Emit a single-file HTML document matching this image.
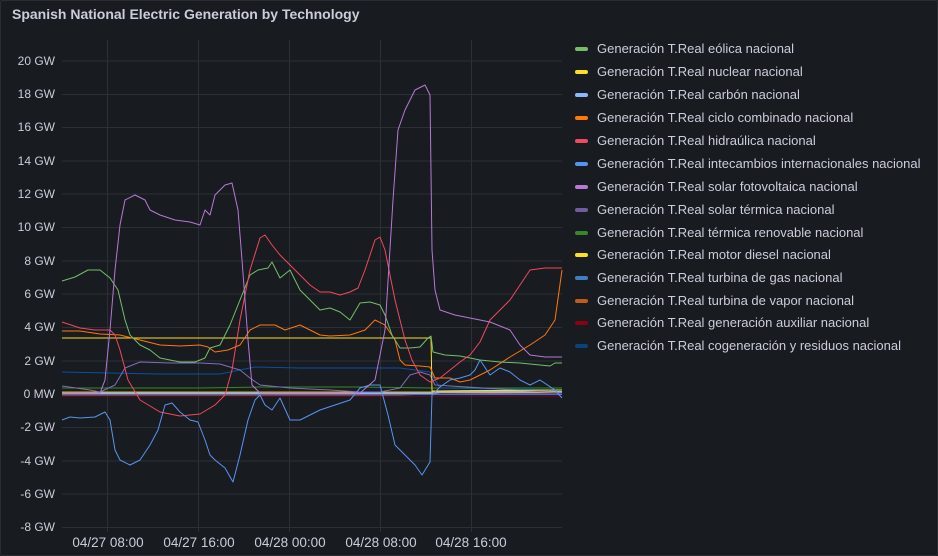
<!DOCTYPE html>
<html><head><meta charset="utf-8"><style>
html,body{margin:0;padding:0;background:#111217;}
.p{position:absolute;left:0;top:0;width:936px;height:554px;background:#181b1f;border:1px solid #2a2d33;border-radius:2px;}
svg{position:absolute;left:0;top:0;}
text{font-family:"Liberation Sans",sans-serif;}
</style></head><body>
<div class="p"></div>
<svg width="938" height="556" viewBox="0 0 938 556">
<text x="12" y="19" font-size="14" font-weight="bold" fill="#ccccdc">Spanish National Electric Generation by Technology</text>
<g stroke="#2c2f35" stroke-width="1">
<line x1="62" y1="61" x2="562" y2="61"/><line x1="62" y1="94.5" x2="562" y2="94.5"/><line x1="62" y1="127.5" x2="562" y2="127.5"/><line x1="62" y1="161" x2="562" y2="161"/><line x1="62" y1="194" x2="562" y2="194"/><line x1="62" y1="227.5" x2="562" y2="227.5"/><line x1="62" y1="261" x2="562" y2="261"/><line x1="62" y1="294" x2="562" y2="294"/><line x1="62" y1="327.5" x2="562" y2="327.5"/><line x1="62" y1="361" x2="562" y2="361"/><line x1="62" y1="394" x2="562" y2="394"/><line x1="62" y1="427.5" x2="562" y2="427.5"/><line x1="62" y1="461" x2="562" y2="461"/><line x1="62" y1="494" x2="562" y2="494"/><line x1="62" y1="527.5" x2="562" y2="527.5"/>
<line x1="107.5" y1="40" x2="107.5" y2="532"/><line x1="198.5" y1="40" x2="198.5" y2="532"/><line x1="289.5" y1="40" x2="289.5" y2="532"/><line x1="380.5" y1="40" x2="380.5" y2="532"/><line x1="471.5" y1="40" x2="471.5" y2="532"/>
</g>
<g font-size="12" fill="#ccccdc" text-anchor="end">
<text x="55" y="65">20 GW</text><text x="55" y="98">18 GW</text><text x="55" y="131">16 GW</text><text x="55" y="165">14 GW</text><text x="55" y="198">12 GW</text><text x="55" y="231">10 GW</text><text x="55" y="265">8 GW</text><text x="55" y="298">6 GW</text><text x="55" y="331">4 GW</text><text x="55" y="365">2 GW</text><text x="55" y="398">0 MW</text><text x="55" y="431">-2 GW</text><text x="55" y="465">-4 GW</text><text x="55" y="498">-6 GW</text><text x="55" y="531">-8 GW</text>
</g>
<g font-size="13.5" fill="#ccccdc" text-anchor="middle">
<text x="108" y="547">04/27 08:00</text><text x="199" y="547">04/27 16:00</text><text x="290" y="547">04/28 00:00</text><text x="381" y="547">04/28 08:00</text><text x="471" y="547">04/28 16:00</text>
</g>
<g fill="none" stroke-width="1" stroke-linejoin="round">
<polyline stroke="#8c0012" points="62,396 562,396"/>
<polyline stroke="#c15c17" points="62,395 400,395 430,394 562,393"/>
<polyline stroke="#3274d9" points="62,394.5 562,394.5"/>
<polyline stroke="#8ab8ff" stroke-width="2" points="62,393 430,393 440,392 562,392"/>
<polyline stroke="#e0b400" points="62,392 430,392 440,391 562,390"/>
<polyline stroke="#37872d" points="62,388 200,388 260,387 360,387 430,388 562,388"/>
<polyline stroke="#0a50a1" points="62,372 160,374 220,374 240,370 255,367 300,368 360,368 400,368 430,372 440,388 562,390"/>
<polyline stroke="#806eb7" points="62,386 90,390 100,392 115,385 125,368 140,362 170,363 200,363 220,364 240,370 250,378 260,385 290,388 330,390 360,392 380,392 400,388 410,375 420,372 430,375 435,385 562,393"/>
<polyline stroke="#fade2a" points="62,338 431,338 432,391 562,390"/>
<polyline stroke="#ff780a" points="62,331 80,331 100,334 120,335 140,340 160,345 180,346 200,345 208,347 215,352 228,350 240,345 250,330 260,325 275,325 285,330 300,325 310,330 320,335 330,336 350,335 365,330 375,320 385,325 395,340 400,360 405,365 420,366 430,367 435,378 450,378 460,382 470,380 490,370 510,357 530,345 545,335 555,320 562,270"/>
<polyline stroke="#73bf69" points="62,281 75,277 88,270 100,270 110,278 118,290 125,320 130,335 140,345 150,350 160,358 170,360 180,362 195,362 205,358 210,348 220,345 230,325 240,300 250,275 258,270 268,268 272,262 280,278 290,270 300,290 310,300 320,310 330,308 340,312 350,320 360,303 370,302 380,305 385,315 392,335 400,348 410,348 420,347 428,338 431,336 433,352 445,355 460,356 470,358 480,360 500,362 520,363 540,365 550,366 555,363 562,363"/>
<polyline stroke="#f2495c" points="62,322 80,328 95,330 110,330 115,335 120,350 128,380 140,400 160,412 180,416 200,414 215,405 225,395 232,370 240,320 250,270 260,238 265,235 272,245 280,255 290,265 300,275 310,285 320,292 330,292 340,295 350,292 358,288 365,270 375,240 380,237 385,250 395,300 405,340 412,360 420,375 430,382 440,378 450,370 460,362 470,355 480,342 490,320 500,310 510,300 520,285 530,270 545,268 562,268"/>
<polyline stroke="#5794f2" points="62,420 70,417 80,418 95,417 105,412 110,420 115,450 120,460 130,465 140,460 150,445 158,430 165,405 172,403 180,412 190,420 198,422 205,440 210,455 215,460 225,468 233,482 240,455 248,420 255,400 260,395 265,405 272,410 280,398 290,420 300,420 310,415 320,410 335,405 350,400 360,388 370,385 380,385 388,415 395,445 405,455 415,465 422,475 430,462 432,395 440,387 450,380 460,378 470,375 475,370 480,360 490,375 500,368 510,372 520,380 530,385 540,380 555,390 562,398"/>
<polyline stroke="#b877d9" points="62,393 100,393 105,380 110,330 115,270 120,225 125,200 135,195 145,200 150,210 160,215 175,220 190,222 200,225 205,210 210,215 215,195 225,185 232,183 238,210 242,260 248,340 252,385 260,393 360,393 375,380 385,330 393,200 398,130 405,110 415,90 425,85 430,95 432,250 435,290 440,310 455,315 470,318 490,322 510,330 520,345 530,355 545,357 562,357"/>
</g>
<g stroke-width="4" stroke-linecap="round">
<line x1="577" y1="49" x2="586" y2="49" stroke="#73bf69"/>
<line x1="577" y1="72" x2="586" y2="72" stroke="#fade2a"/>
<line x1="577" y1="95" x2="586" y2="95" stroke="#8ab8ff"/>
<line x1="577" y1="118" x2="586" y2="118" stroke="#ff780a"/>
<line x1="577" y1="141" x2="586" y2="141" stroke="#f2495c"/>
<line x1="577" y1="164" x2="586" y2="164" stroke="#5794f2"/>
<line x1="577" y1="187" x2="586" y2="187" stroke="#b877d9"/>
<line x1="577" y1="210" x2="586" y2="210" stroke="#705da0"/>
<line x1="577" y1="233" x2="586" y2="233" stroke="#37872d"/>
<line x1="577" y1="255" x2="586" y2="255" stroke="#fade2a"/>
<line x1="577" y1="278" x2="586" y2="278" stroke="#3f7fc0"/>
<line x1="577" y1="301" x2="586" y2="301" stroke="#c15c17"/>
<line x1="577" y1="323" x2="586" y2="323" stroke="#8c0012"/>
<line x1="577" y1="346" x2="586" y2="346" stroke="#0a437c"/>
</g>
<g font-size="13" fill="#ccccdc">
<text x="597" y="53">Generación T.Real eólica nacional</text>
<text x="597" y="76">Generación T.Real nuclear nacional</text>
<text x="597" y="99">Generación T.Real carbón nacional</text>
<text x="597" y="122">Generación T.Real ciclo combinado nacional</text>
<text x="597" y="145">Generación T.Real hidraúlica nacional</text>
<text x="597" y="168">Generación T.Real intecambios internacionales nacional</text>
<text x="597" y="191">Generación T.Real solar fotovoltaica nacional</text>
<text x="597" y="214">Generación T.Real solar térmica nacional</text>
<text x="597" y="237">Generación T.Real térmica renovable nacional</text>
<text x="597" y="259">Generación T.Real motor diesel nacional</text>
<text x="597" y="282">Generación T.Real turbina de gas nacional</text>
<text x="597" y="305">Generación T.Real turbina de vapor nacional</text>
<text x="597" y="327">Generación T.Real generación auxiliar nacional</text>
<text x="597" y="350">Generación T.Real cogeneración y residuos nacional</text>
</g>
</svg>
</body></html>
